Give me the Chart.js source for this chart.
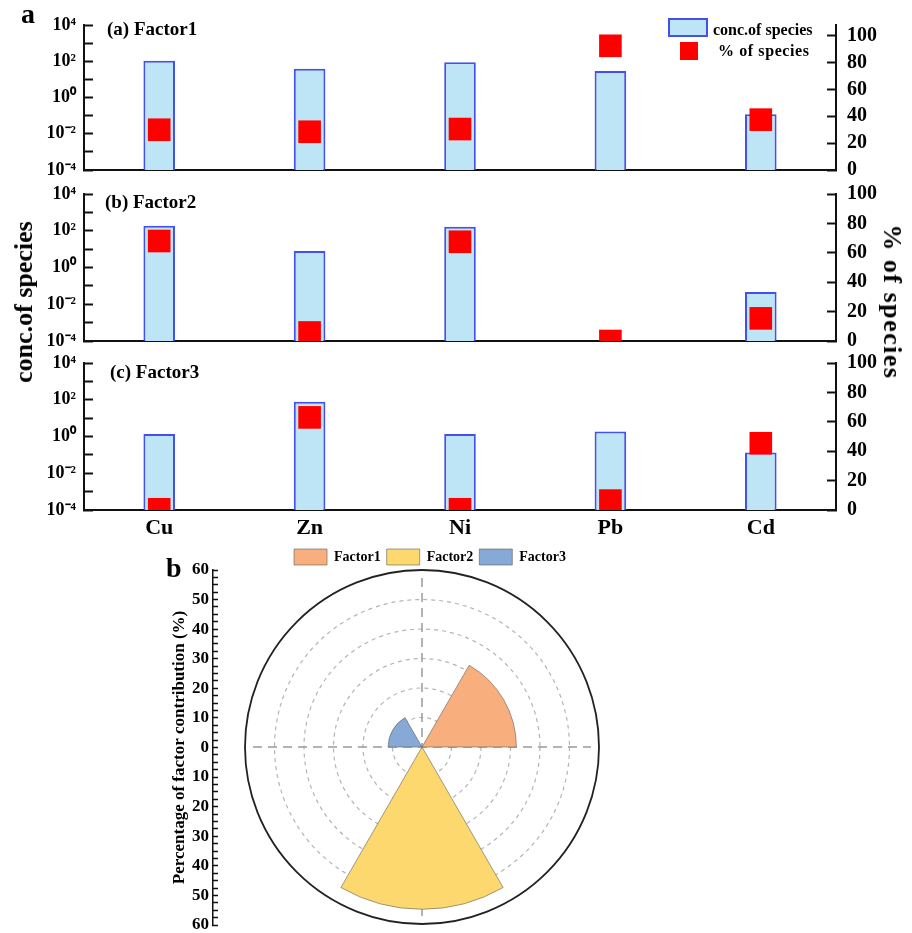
<!DOCTYPE html>
<html>
<head>
<meta charset="utf-8">
<script src="https://cdn.jsdelivr.net/npm/chart.js@4.4.1/dist/chart.umd.min.js"></script>
<style>
body { margin: 0; background: #fff; }
#wrap { position: relative; width: 912px; height: 933px; overflow: hidden; background: #fff;
  font-family: 'Liberation Serif', 'Times New Roman', serif; font-weight: bold; color: #000; }
canvas { position: absolute; }
.txt { position: absolute; white-space: nowrap; line-height: 1; }
.rot { position: absolute; white-space: nowrap; line-height: 1; }
</style>
</head>
<body>
<div id="wrap">
  <canvas id="panel1" width="912" height="184" style="left:0;top:0"></canvas>
  <canvas id="panel2" width="912" height="177" style="left:0;top:178px"></canvas>
  <canvas id="panel3" width="912" height="198" style="left:0;top:347px"></canvas>
  <canvas id="polar" width="560" height="398" style="left:150px;top:535px"></canvas>

  <div class="txt" style="left:21px;top:0;font-size:28px">a</div>
  <div class="txt" style="left:107px;top:19px;font-size:19px">(a) Factor1</div>
  <div class="txt" style="left:105px;top:192px;font-size:19px">(b) Factor2</div>
  <div class="txt" style="left:110px;top:362px;font-size:19px">(c) Factor3</div>

  <div style="position:absolute;left:668px;top:18px;width:36px;height:15px;background:#bee5f6;border:2px solid #4350f0"></div>
  <div class="txt" style="left:713px;top:22px;font-size:16px">conc.of species</div>
  <div style="position:absolute;left:680px;top:42px;width:18px;height:18px;background:#ff0000"></div>
  <div class="txt" style="left:718px;top:43px;font-size:16px;letter-spacing:0.6px">% of species</div>

  <div class="rot" style="left:24px;top:302px;font-size:26px;transform:translate(-50%,-50%) rotate(-90deg)">conc.of species</div>
  <div class="rot" style="left:892px;top:302px;font-size:26px;letter-spacing:1.5px;transform:translate(-50%,-50%) rotate(90deg)">% of species</div>

  <div class="txt" style="left:166px;top:554px;font-size:28px">b</div>
</div>
<script>
var elements = ['Cu', 'Zn', 'Ni', 'Pb', 'Cd'];

// conc. of species (left, log) and % of species (right) for each factor
var conc1 = [107, 39, 87, 29, 0.12];
var pct1 = [30, 28.5, 30.5, 92.5, 37.5];
var conc2 = [190, 7.9, 166, null, 0.047];
var pct2 = [68, 5.8, 67.5, 0, 15.4];
var conc3 = [1.38, 79, 1.35, 1.86, 0.133];
var pct3 = [0.5, 63, 0.5, 6.4, 45.4];

var concTickValues = [1e-4, 1e-3, 1e-2, 1e-1, 1, 10, 100, 1000, 1e4];
var concTickLabels = ['10⁻⁴', '', '10⁻²', '', '10⁰', '', '10²', '', '10⁴'];

// factor contribution rose
var factors = ['Factor1', 'Factor2', 'Factor3'];
var contribution = [32, 55, 11.5];
var factorColors = ['#f9af7d', '#fdd86f', '#86aad5'];

var serif = "'Liberation Serif', 'Times New Roman', serif";
var axisColor = '#111';

// fixed box size, and no extra label padding pushed into the layout
function fixBox(w, h) {
    return function (s) {
        if (w !== null) s.width = w;
        if (h !== null) s.height = h;
        s.paddingTop = 0;
        s.paddingBottom = 0;
        s.paddingLeft = 0;
        s.paddingRight = 0;
    };
}

function panelChart(id, conc, pct, pctMax, padTop, xHeight, showNames) {
    return new Chart(document.getElementById(id), {
        type: 'bar',
        data: {
            labels: elements,
            datasets: [{
                type: 'line',
                label: '% of species',
                data: pct,
                yAxisID: 'yPct',
                showLine: false,
                pointStyle: 'rect',
                pointRadius: 16,
                pointHoverRadius: 16,
                pointBackgroundColor: '#ff0000',
                pointBorderWidth: 0,
                clip: 0,
                order: 0
            }, {
                type: 'bar',
                label: 'conc.of species',
                data: conc,
                yAxisID: 'yConc',
                backgroundColor: '#bee5f6',
                borderColor: '#4350f0',
                borderWidth: 2,
                barPercentage: 0.21,
                categoryPercentage: 1,
                order: 1
            }]
        },
        options: {
            responsive: false,
            animation: false,
            layout: { autoPadding: false, padding: { top: padTop, left: 0, right: 0, bottom: 0 } },
            plugins: { legend: { display: false }, tooltip: { enabled: false } },
            scales: {
                x: {
                    offset: true,
                    grid: { offset: false, drawOnChartArea: false, tickLength: -9, tickWidth: 2, tickColor: axisColor },
                    border: { color: axisColor, width: 2 },
                    ticks: { display: showNames, color: '#000', padding: 14, font: { family: serif, size: 22, weight: 'bold' } },
                    afterFit: fixBox(null, xHeight)
                },
                yConc: {
                    type: 'logarithmic',
                    position: 'left',
                    min: 1e-4,
                    max: 1e4,
                    afterBuildTicks: function (s) {
                        s.ticks = concTickValues.map(function (v) { return { value: v }; });
                    },
                    grid: { drawOnChartArea: false, tickLength: -9, tickWidth: 2, tickColor: axisColor },
                    border: { color: axisColor, width: 2 },
                    ticks: {
                        autoSkip: false,
                        color: '#000',
                        padding: 17,
                        font: { family: serif, size: 18, weight: 'bold' },
                        callback: function (v, i) { return concTickLabels[i]; }
                    },
                    afterFit: fixBox(84, null)
                },
                yPct: {
                    position: 'right',
                    min: 0,
                    max: pctMax,
                    grid: { drawOnChartArea: false, tickLength: -9, tickWidth: 2, tickColor: axisColor },
                    border: { color: axisColor, width: 2 },
                    ticks: {
                        stepSize: 20,
                        includeBounds: false,
                        autoSkip: false,
                        color: '#000',
                        padding: 20,
                        font: { family: serif, size: 20, weight: 'bold' }
                    },
                    afterFit: fixBox(76, null)
                }
            }
        }
    });
}

var panelA = panelChart('panel1', conc1, pct1, 108, 25, 14, false);
var panelB = panelChart('panel2', conc2, pct2, 100, 16, 14, false);
var panelC = panelChart('panel3', conc3, pct3, 100, 16, 35, true);

// six 60-degree slots clockwise: Factor1, gap, Factor2, gap, Factor3, gap
var polarLabels = [];
var polarData = [];
var polarBg = [];
var polarBorderWidth = [];
factors.forEach(function (f, i) {
    polarLabels.push(f, '');
    polarData.push(contribution[i], 0);
    polarBg.push(factorColors[i], 'rgba(0,0,0,0)');
    polarBorderWidth.push(1, 0);
});

var crossLines = {
    id: 'crossLines',
    beforeDatasetsDraw: function (chart) {
        var r = chart.scales.r;
        var ctx = chart.ctx;
        ctx.save();
        ctx.strokeStyle = '#9a9a9a';
        ctx.lineWidth = 1.5;
        ctx.setLineDash([9, 6]);
        ctx.beginPath();
        ctx.moveTo(r.xCenter - r.drawingArea + 8, r.yCenter);
        ctx.lineTo(r.xCenter + r.drawingArea - 8, r.yCenter);
        ctx.moveTo(r.xCenter, r.yCenter - r.drawingArea + 8);
        ctx.lineTo(r.xCenter, r.yCenter + r.drawingArea - 8);
        ctx.stroke();
        ctx.restore();
    }
};

var rose = new Chart(document.getElementById('polar'), {
    type: 'polarArea',
    data: {
        labels: polarLabels,
        datasets: [{
            data: polarData,
            backgroundColor: polarBg,
            borderColor: 'rgba(95,95,95,0.6)',
            borderWidth: polarBorderWidth
        }]
    },
    options: {
        responsive: false,
        animation: false,
        layout: { autoPadding: false, padding: { top: 8, right: 0, bottom: 8, left: 0 } },
        plugins: {
            legend: {
                position: 'top',
                maxHeight: 27,
                labels: {
                    boxWidth: 33,
                    boxHeight: 16,
                    padding: 6,
                    color: '#000',
                    font: { family: serif, size: 14, weight: 'bold' },
                    filter: function (item) { return item.text !== ''; }
                }
            },
            tooltip: { enabled: false }
        },
        scales: {
            r: {
                min: 0,
                max: 60,
                startAngle: 30,
                ticks: { display: false, stepSize: 10 },
                grid: {
                    color: function (c) { return c.tick.value === 60 ? '#222' : '#b4b4b4'; },
                    lineWidth: function (c) { return c.tick.value === 60 ? 1.8 : 1.2; }
                },
                border: {
                    dash: function (c) { return c.tick.value === 60 ? [] : [4, 4]; }
                }
            },
            y: {
                type: 'linear',
                position: 'left',
                min: -60,
                max: 60,
                grid: { drawOnChartArea: false, tickLength: -5, tickWidth: 1.5, tickColor: axisColor },
                border: { color: axisColor, width: 1.5 },
                ticks: {
                    stepSize: 2.5,
                    autoSkip: false,
                    color: '#000',
                    padding: 9,
                    font: { family: serif, size: 17, weight: 'bold' },
                    callback: function (v) { return v % 10 === 0 ? String(Math.abs(v)) : ''; }
                },
                title: {
                    display: true,
                    text: 'Percentage of factor contribution (%)',
                    color: '#000',
                    font: { family: serif, size: 17, weight: 'bold' },
                    padding: { top: 19, bottom: 0 }
                },
                afterFit: fixBox(63, null)
            },
            // empty right-hand box so the rose sits left of the legend centre
            yRight: {
                type: 'linear',
                position: 'right',
                min: -60,
                max: 60,
                grid: { display: false },
                border: { display: false },
                ticks: { display: false },
                afterFit: fixBox(79, null)
            }
        }
    },
    plugins: [crossLines]
});
</script>
</body>
</html>
